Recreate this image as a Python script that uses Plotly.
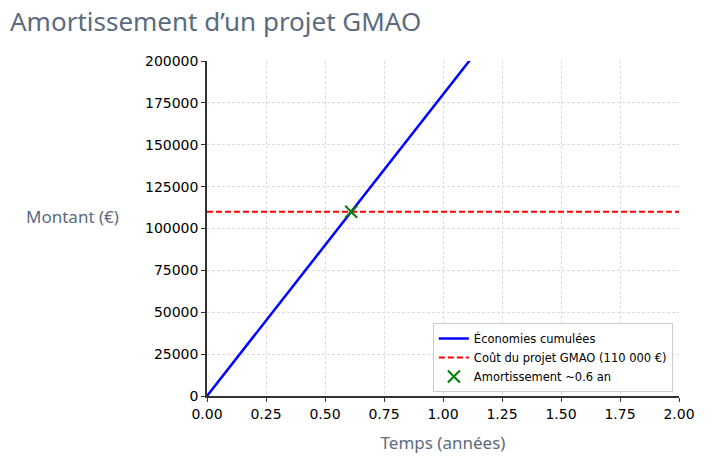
import plotly.graph_objects as go

# données
annees = [0.0, 2.0]
economies_cumulees = [0.0, 360000.0]
cout_projet = [110000.0, 110000.0]
amortissement_x = [0.611]
amortissement_y = [110000.0]

x_ticks = [0, 0.25, 0.5, 0.75, 1.0, 1.25, 1.5, 1.75, 2.0]
y_ticks = [0, 25000, 50000, 75000, 100000, 125000, 150000, 175000, 200000]

tick_font = dict(family="DejaVu Sans", size=14, color="black")
label_color = "#5b6b7e"

fig = go.Figure()
fig.add_trace(go.Scatter(x=annees, y=economies_cumulees, mode="lines",
                         name="Économies cumulées",
                         line=dict(color="blue", width=2.5)))
fig.add_trace(go.Scatter(x=annees, y=cout_projet, mode="lines",
                         name="Coût du projet GMAO (110 000 €)",
                         line=dict(color="red", width=1.8, dash="6px,3px")))
fig.add_trace(go.Scatter(x=amortissement_x, y=amortissement_y, mode="markers",
                         name="Amortissement ~0.6 an",
                         marker=dict(symbol="x-thin", size=12, color="green",
                                     line=dict(color="green", width=2))))

# la page ajoute 8 px de marge autour du graphique
fig.update_layout(
    width=720, height=467,
    margin=dict(l=199, r=49, t=53, b=79),
    paper_bgcolor="white", plot_bgcolor="white",
    title=dict(text="Amortissement d’un projet GMAO", x=0.0, xref="container",
               xanchor="left", y=0.99, yanchor="top", pad=dict(l=2),
               font=dict(family="Noto Sans", size=26, color=label_color)),
    legend=dict(x=0.987, y=0.012, xanchor="right", yanchor="bottom",
                bgcolor="white", bordercolor="#cccccc", borderwidth=1,
                font=dict(family="DejaVu Sans", size=11.5, color="black")),
    showlegend=True,
)

fig.update_xaxes(range=[0, 2], tickvals=x_ticks, tickformat=".2f",
                 showline=True, linecolor="#333333", linewidth=1.5,
                 ticks="outside", ticklen=4, tickcolor="#333333",
                 showgrid=True, gridcolor="#dcdcdc", griddash="3px,2px",
                 zeroline=False, tickfont=tick_font,
                 title=dict(text="Temps (années)", standoff=17,
                            font=dict(family="Noto Sans", size=17, color=label_color)))
fig.update_yaxes(range=[0, 200000], tickvals=y_ticks, tickformat="d",
                 showline=True, linecolor="#333333", linewidth=1.5,
                 ticks="outside", ticklen=4, tickcolor="#333333",
                 showgrid=True, gridcolor="#dcdcdc", griddash="3px,2px",
                 zeroline=False, tickfont=tick_font)

fig.add_annotation(text="Montant (€)", xref="paper", yref="paper",
                   x=-0.183, y=0.535, xanchor="right", yanchor="middle",
                   showarrow=False,
                   font=dict(family="Noto Sans", size=17, color=label_color))

fig.write_html("out.html")
